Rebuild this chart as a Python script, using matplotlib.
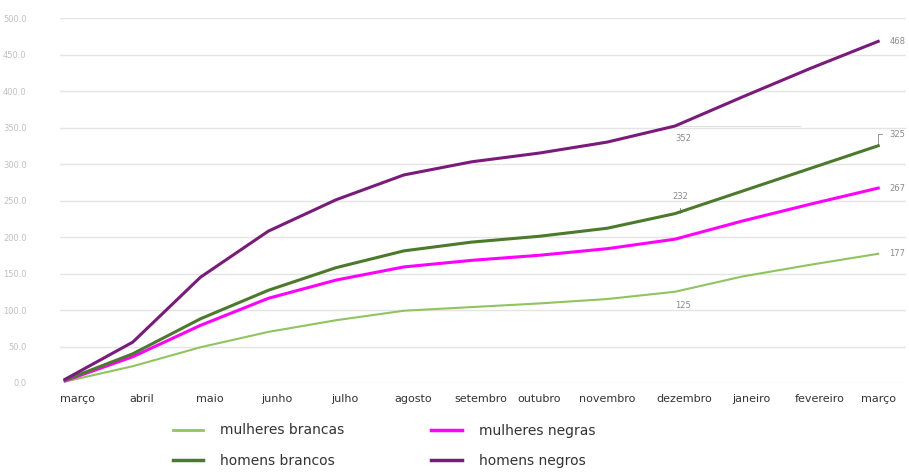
import matplotlib
matplotlib.use("Agg")
import matplotlib.pyplot as plt
import matplotlib.transforms as mtransforms

months = ["março", "abril", "maio", "junho", "julho", "agosto", "setembro",
          "outubro", "novembro", "dezembro", "janeiro", "fevereiro", "março"]
mulheres_brancas = [2, 23, 49, 70, 86, 99, 104, 109, 115, 125, 146, 162, 177]
mulheres_negras = [3, 36, 79, 116, 141, 159, 168, 175, 184, 197, 222, 245, 267]
homens_brancos = [4, 40, 88, 127, 158, 181, 193, 201, 212, 232, 263, 294, 325]
homens_negros = [5, 56, 145, 208, 251, 285, 303, 315, 330, 352, 392, 431, 468]
yticks = [0, 50, 100, 150, 200, 250, 300, 350, 400, 450, 500]

W, H = 909, 473
fig = plt.figure(figsize=(W / 100, H / 100), dpi=100)
ax = fig.add_axes([60 / W, 1 - 383 / H, (906 - 60) / W, (383 - 18) / H])

x = list(range(len(months)))
c_lb, c_mn, c_hb, c_hn = "#8fc45e", "#ff00ff", "#4b7a2c", "#7a1b7c"
l_mb, = ax.plot(x, mulheres_brancas, color=c_lb, lw=1.5, label="mulheres brancas", zorder=3)
l_mn, = ax.plot(x, mulheres_negras, color=c_mn, lw=2.2, label="mulheres negras", zorder=3)
l_hb, = ax.plot(x, homens_brancos, color=c_hb, lw=2.2, label="homens brancos", zorder=3)
l_hn, = ax.plot(x, homens_negros, color=c_hn, lw=2.2, label="homens negros", zorder=3)

ax.set_xlim(-0.074, 12.41)
ax.set_ylim(0, 500)
ax.set_yticks(yticks)
ax.set_yticklabels([f"{v:.1f}" for v in yticks], color="#c0c0c0", fontsize=6)
ax.grid(axis="y", color="#e4e4e4", lw=1.0, zorder=0)
for s in ax.spines.values():
    s.set_visible(False)
ax.tick_params(axis="both", length=0)
ax.tick_params(axis="y", pad=24)
ax.set_xticks(x)
ax.set_xticklabels(months, fontsize=8, color="#333333")
ax.tick_params(axis="x", pad=8)
offset = mtransforms.ScaledTranslation(0.09, 0, fig.dpi_scale_trans)
for i, lab in enumerate(ax.get_xticklabels()):
    if 0 < i < 12 and i not in (7, 8):
        lab.set_transform(lab.get_transform() + offset)
    elif i == 0:
        lab.set_transform(lab.get_transform() + mtransforms.ScaledTranslation(0.12, 0, fig.dpi_scale_trans))

# data labels
lab_kw = dict(fontsize=6, color="#8a8a8a")
last = len(months) - 1
ax.annotate(f"{homens_negros[-1]}", (last, homens_negros[-1]), xytext=(8, 0),
            textcoords="offset points", va="center", **lab_kw)
ax.annotate(f"{homens_brancos[-1]}", (last, homens_brancos[-1]), xytext=(8, 8),
            textcoords="offset points", va="center", **lab_kw)
ax.plot([last, last], [homens_brancos[-1], homens_brancos[-1] + 16], color="#999999", lw=0.7)
ax.plot([last, last + 0.05], [homens_brancos[-1] + 16, homens_brancos[-1] + 16], color="#999999", lw=0.7)
ax.annotate(f"{mulheres_negras[-1]}", (last, mulheres_negras[-1]), xytext=(8, 0),
            textcoords="offset points", va="center", **lab_kw)
ax.annotate(f"{mulheres_brancas[-1]}", (last, mulheres_brancas[-1]), xytext=(8, 0),
            textcoords="offset points", va="center", **lab_kw)
d = 9
ax.annotate(f"{homens_negros[d]}", (d, homens_negros[d]), xytext=(6, -9),
            textcoords="offset points", ha="center", va="center", **lab_kw)
ax.plot([d - 0.05, d + 1.85], [homens_negros[d], homens_negros[d]], color="#e0e0e0", lw=0.8, zorder=1)
ax.annotate(f"{homens_brancos[d]}", (d, homens_brancos[d]), xytext=(4, 12),
            textcoords="offset points", ha="center", va="center", **lab_kw)
ax.plot([d + 0.08, d + 0.08], [homens_brancos[d] + 1, homens_brancos[d] + 8], color="#999999", lw=0.7)
ax.annotate(f"{mulheres_brancas[d]}", (d, mulheres_brancas[d]), xytext=(6, -10),
            textcoords="offset points", ha="center", va="center", **lab_kw)

handles = [l_mb, l_hb, l_mn, l_hn]
leg = fig.legend(handles, [h.get_label() for h in handles], ncol=2, loc="upper left",
                 bbox_to_anchor=(160 / W, 1 - 411 / H), frameon=False,
                 fontsize=10, handlelength=2.2, handletextpad=1.2,
                 columnspacing=6.3, labelspacing=1.2)
for t in leg.get_texts():
    t.set_color("#333333")
for h in leg.legend_handles:
    h.set_linewidth(2.5)
leg.legend_handles[0].set_linewidth(2)

fig.savefig("out.png", dpi=100, facecolor="white")
